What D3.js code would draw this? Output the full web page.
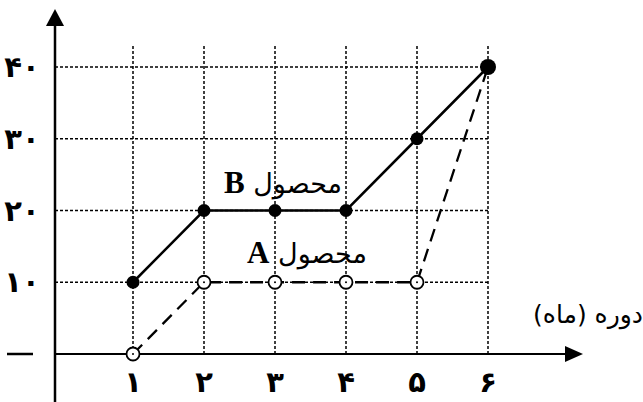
<!DOCTYPE html>
<html><head><meta charset="utf-8">
<script src="https://cdn.jsdelivr.net/npm/d3@7"></script>
<style>html,body{margin:0;padding:0;background:#fff;}svg{display:block;}</style>
</head><body>
<svg id="c" width="643" height="402"></svg>
<script>
const months = [1, 2, 3, 4, 5, 6];
const xTickLabels = ["۱", "۲", "۳", "۴", "۵", "۶"];
const yTicks = [10, 20, 30, 40];
const yTickLabels = ["۱۰", "۲۰", "۳۰", "۴۰"];
const productB = [10, 20, 20, 20, 30, 40];
const productA = [0, 10, 10, 10, 10, 40];
const labelB = "محصول B";
const labelA = "محصول A";
const xTitle = "دوره (ماه)";

const svg = d3.select("#c");
const x = d3.scaleLinear().domain([1, 6]).range([133, 488]);
const y = d3.scaleLinear().domain([0, 40]).range([354, 67]);
const axisX = 55;

// grid
const g = svg.append("g").attr("stroke", "#000").attr("stroke-width", 1.5).attr("stroke-dasharray", "3,2");
g.selectAll(".v").data(months).join("line")
  .attr("x1", d => x(d)).attr("x2", d => x(d))
  .attr("y1", y(0)).attr("y2", 46);
g.selectAll(".h").data(yTicks).join("line")
  .attr("x1", axisX).attr("x2", x(6))
  .attr("y1", d => y(d)).attr("y2", d => y(d));

// axes
svg.append("line").attr("x1", axisX).attr("x2", axisX).attr("y1", 402).attr("y2", 22)
  .attr("stroke", "#000").attr("stroke-width", 2.5);
svg.append("path").attr("d", `M${axisX},9 L${axisX-9},26 L${axisX+9},26 Z`).attr("fill", "#000");
svg.append("line").attr("x1", axisX).attr("x2", 570).attr("y1", y(0)).attr("y2", y(0))
  .attr("stroke", "#000").attr("stroke-width", 2);
svg.append("path").attr("d", `M583,${y(0)} L565,${y(0)-8} L565,${y(0)+8} Z`).attr("fill", "#000");

// tick labels
svg.selectAll(".xt").data(months).join("text")
  .attr("x", d => x(d)).attr("y", 392)
  .attr("text-anchor", "middle")
  .attr("font-family", "DejaVu Sans").attr("font-weight", "bold").attr("font-size", 29)
  .text((d, i) => xTickLabels[i]);
svg.selectAll(".yt").data(yTicks).join("text")
  .attr("x", 22).attr("y", d => y(d) + 10)
  .attr("text-anchor", "middle")
  .attr("font-family", "DejaVu Sans").attr("font-weight", "bold").attr("font-size", 29)
  .text((d, i) => yTickLabels[i]);
svg.append("line").attr("x1", 7).attr("x2", 33).attr("y1", y(0)).attr("y2", y(0))
  .attr("stroke", "#000").attr("stroke-width", 2.5);

svg.append("text").attr("x", 588).attr("y", 323).attr("text-anchor", "middle")
  .attr("direction", "rtl")
  .attr("font-family", "DejaVu Sans").attr("font-size", 25).text(xTitle);

// lines
const line = (arr) => d3.line().x((d, i) => x(months[i])).y(d => y(d))(arr);
svg.append("path").attr("d", line(productA)).attr("fill", "none")
  .attr("stroke", "#000").attr("stroke-width", 2.3).attr("stroke-dasharray", "13,8");
svg.append("path").attr("d", line(productB)).attr("fill", "none")
  .attr("stroke", "#000").attr("stroke-width", 2.5);

// points
svg.selectAll(".pb").data(productB).join("circle")
  .attr("cx", (d, i) => x(months[i])).attr("cy", d => y(d))
  .attr("r", (d, i) => i === 5 ? 8 : 6.5).attr("fill", "#000");
svg.selectAll(".pa").data(productA.slice(0, 5)).join("circle")
  .attr("cx", (d, i) => x(months[i])).attr("cy", d => y(d))
  .attr("r", 6.5).attr("fill", "#fff").attr("stroke", "#000").attr("stroke-width", 1.8);
svg.selectAll(".pad").data(productA.slice(0, 5)).join("circle")
  .attr("cx", (d, i) => x(months[i])).attr("cy", d => y(d))
  .attr("r", 1).attr("fill", "#000");

// series labels
function seriesLabel(txt, cx, by) {
  const parts = txt.split(" ");
  const t = svg.append("text").attr("x", cx).attr("y", by).attr("text-anchor", "middle")
    .attr("direction", "rtl");
  t.append("tspan").attr("font-family", "DejaVu Sans").attr("font-size", 27).text(parts[0] + " ");
  t.append("tspan").attr("font-family", "Liberation Serif").attr("font-weight", "bold").attr("font-size", 31).text(parts[1]);
}
seriesLabel(labelB, 283, 193);
seriesLabel(labelA, 307, 263);
</script>
</body></html>
